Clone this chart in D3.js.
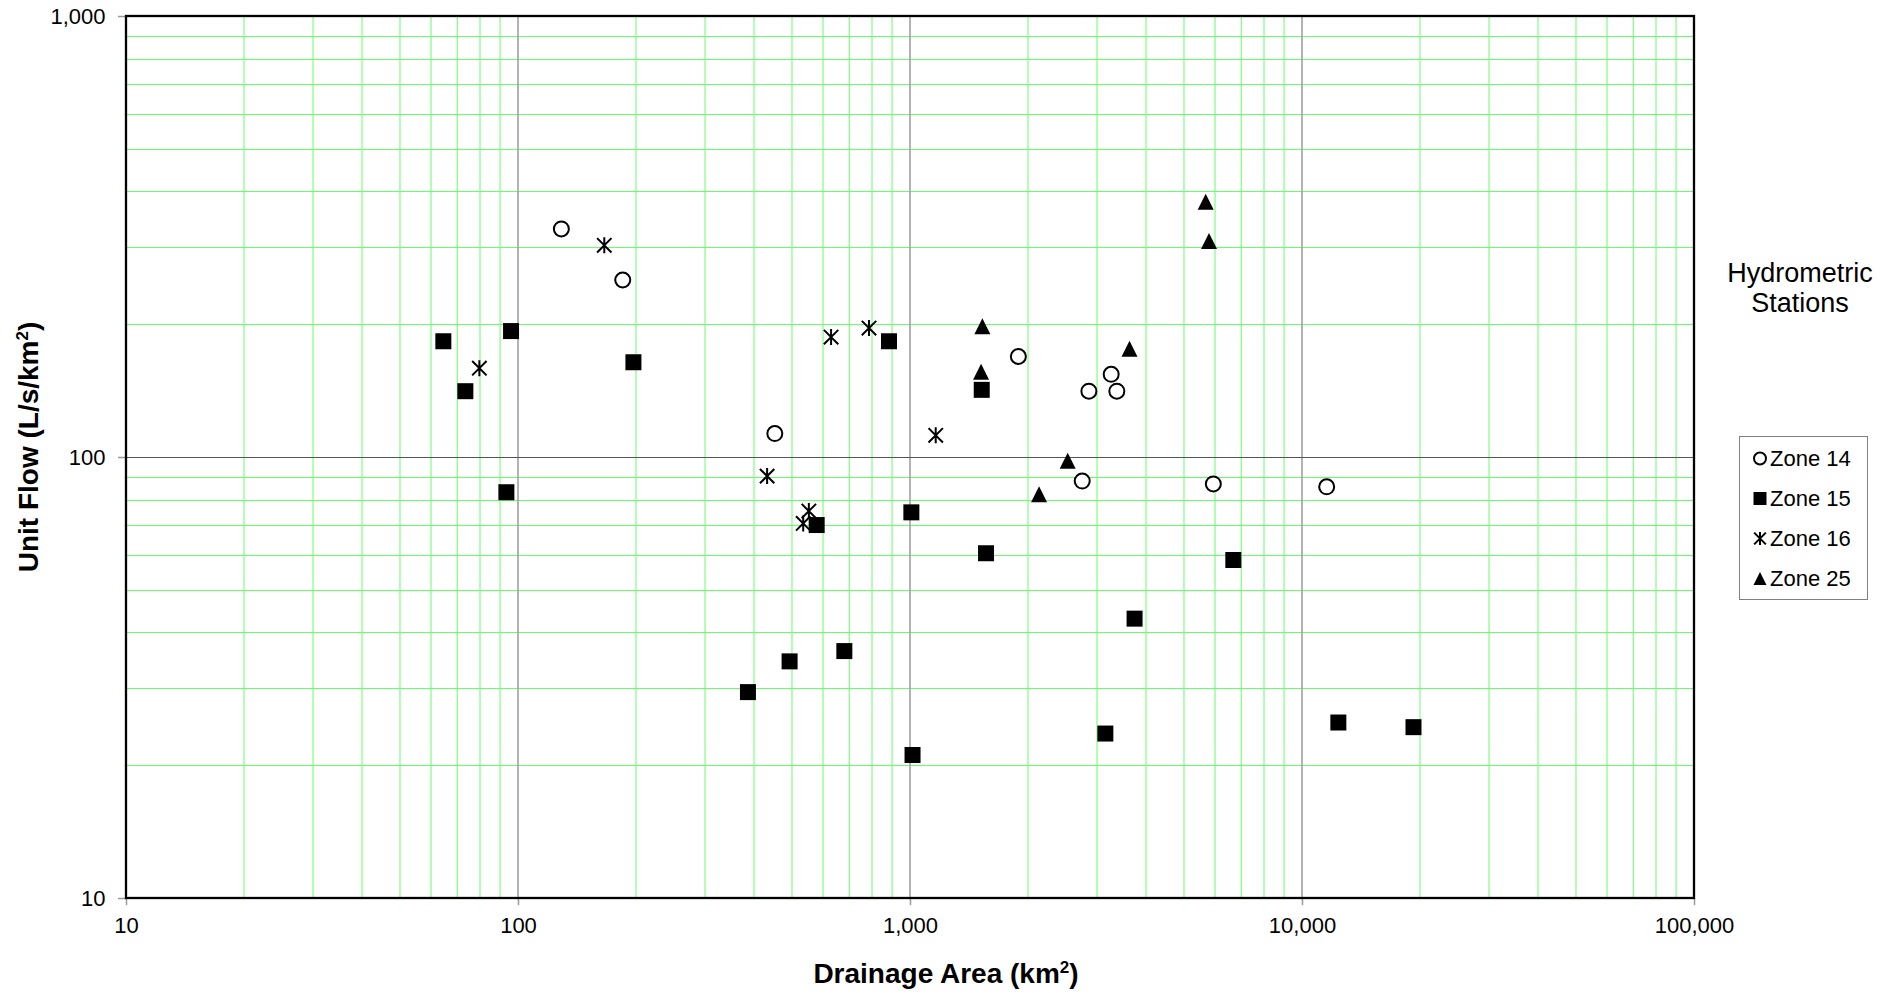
<!DOCTYPE html>
<html>
<head>
<meta charset="utf-8">
<script src="https://cdn.jsdelivr.net/npm/d3@7"></script>
<style>
  html, body { margin: 0; padding: 0; background: #fff; }
  svg { display: block; font-family: "Liberation Sans", Arial, sans-serif; }
</style>
</head>
<body>
<svg id="chart" width="1897" height="993"></svg>
<script>
// Hydrometric stations: drainage area (km²) vs unit flow (L/s/km²)
const zone14Area = [129, 185, 452, 1890, 2860, 3260, 3370, 2750, 5940, 11560];
const zone14Flow = [329, 252, 113, 169, 141, 154, 141, 88.2, 86.9, 85.6];

const zone15Area = [64.5, 73.4, 96, 93.4, 197, 386, 493, 578, 680, 884, 1008, 1015, 1524, 1563, 3150, 3740, 6680, 12380, 19250];
const zone15Flow = [183, 141, 193, 83.2, 164, 29.3, 34.4, 70.1, 36.3, 183, 74.9, 21.1, 142, 60.5, 23.6, 43.0, 58.4, 25.0, 24.4];

const zone16Area = [79.7, 166, 432, 552, 534, 629, 786, 1163];
const zone16Flow = [159, 302, 90.5, 75.4, 70.7, 187, 196, 112];

const zone25Area = [1530, 1518, 3630, 2525, 2134, 5680, 5790];
const zone25Flow = [198, 156, 176, 98.0, 82.3, 379, 309];

const zoneNames = ["Zone 14", "Zone 15", "Zone 16", "Zone 25"];
const xTickValues = [10, 100, 1000, 10000, 100000];
const yTickValues = [10, 100, 1000];

const svg = d3.select("#chart");
const pLeft = 126, pRight = 1694, pTop = 16, pBottom = 898;

const x = d3.scaleLog().domain([10, 100000]).range([pLeft, pRight]);
const y = d3.scaleLog().domain([10, 1000]).range([pBottom, pTop]);

// minor grid values: 2..9 within each decade
const minorX = [], minorY = [];
[10, 100, 1000, 10000].forEach(d => { for (let k = 2; k <= 9; k++) minorX.push(k * d); });
[10, 100].forEach(d => { for (let k = 2; k <= 9; k++) minorY.push(k * d); });

const grid = svg.append("g");
grid.selectAll(".gx").data(minorX).enter().append("line")
  .attr("x1", d => x(d)).attr("x2", d => x(d))
  .attr("y1", pTop).attr("y2", pBottom)
  .attr("stroke", "#66ff66").attr("stroke-width", 1);
grid.selectAll(".gy").data(minorY).enter().append("line")
  .attr("x1", pLeft).attr("x2", pRight)
  .attr("y1", d => Math.round(y(d)) + 0.5).attr("y2", d => Math.round(y(d)) + 0.5)
  .attr("stroke", "#66ff66").attr("stroke-width", 1);
grid.selectAll(".mx").data([100, 1000, 10000]).enter().append("line")
  .attr("x1", d => x(d)).attr("x2", d => x(d))
  .attr("y1", pTop).attr("y2", pBottom)
  .attr("stroke", "#a0a0a0").attr("stroke-width", 1.6);
grid.selectAll(".my").data([100]).enter().append("line")
  .attr("x1", pLeft).attr("x2", pRight)
  .attr("y1", d => Math.round(y(d)) + 0.5).attr("y2", d => Math.round(y(d)) + 0.5)
  .attr("stroke", "#555").attr("stroke-width", 1);

// axes
const fmt = d3.format(",");
const xAxis = svg.append("g").attr("transform", `translate(0,${pBottom})`)
  .call(d3.axisBottom(x).tickValues(xTickValues).tickFormat(fmt).tickSize(7).tickPadding(12.4));
const yAxis = svg.append("g").attr("transform", `translate(${pLeft},0)`)
  .call(d3.axisLeft(y).tickValues(yTickValues).tickFormat(fmt).tickSize(8).tickPadding(12.5));
[xAxis, yAxis].forEach(a => {
  a.select(".domain").remove();
  a.selectAll(".tick line").attr("stroke", "#999").attr("stroke-width", 1.5);
  a.selectAll(".tick text").attr("fill", "#000").style("font-size", "22px")
    .style("font-family", "'Liberation Sans', Arial, sans-serif");
});

// plot frame
svg.append("rect").attr("x", pLeft).attr("y", pTop)
  .attr("width", pRight - pLeft).attr("height", pBottom - pTop)
  .attr("fill", "none").attr("stroke", "#000").attr("stroke-width", 2.3);

// marker shapes
function markerPath(type, s) {
  const h = s / 2;
  if (type === "square") return `M${-h},${-h}H${h}V${h}H${-h}Z`;
  if (type === "triangle") return `M0,${-h}L${h},${h}L${-h},${h}Z`;
  if (type === "star") {
    const a = h * 0.9;
    return `M${-a},${-a}L${a},${a}M${-a},${a}L${a},${-a}M0,${-h}L0,${h}`;
  }
  return null;
}

function drawMarker(g, type, size) {
  if (type === "circle") {
    g.append("circle").attr("r", size / 2 - 0.5).attr("fill", "#fff")
      .attr("stroke", "#000").attr("stroke-width", 2);
  } else if (type === "star") {
    g.append("path").attr("d", markerPath(type, size)).attr("fill", "none")
      .attr("stroke", "#000").attr("stroke-width", 2);
  } else {
    g.append("path").attr("d", markerPath(type, size)).attr("fill", "#000");
  }
}

const series = [
  { name: zoneNames[0], area: zone14Area, flow: zone14Flow, type: "circle" },
  { name: zoneNames[1], area: zone15Area, flow: zone15Flow, type: "square" },
  { name: zoneNames[2], area: zone16Area, flow: zone16Flow, type: "star" },
  { name: zoneNames[3], area: zone25Area, flow: zone25Flow, type: "triangle" }
];

const drawOrder = [2, 0, 3, 1];
const pts = svg.append("g");
drawOrder.forEach(i => {
  const s = series[i];
  s.area.forEach((a, j) => {
    const g = pts.append("g").attr("transform", `translate(${x(a)},${y(s.flow[j])})`);
    drawMarker(g, s.type, 16);
  });
});

// axis titles
function titleWithSup(sel, base) {
  sel.append("tspan").text(base);
  sel.append("tspan").attr("dy", -10).style("font-size", "17px").text("2");
  sel.append("tspan").attr("dy", 10).text(")");
}

titleWithSup(
  svg.append("text").attr("x", 946).attr("y", 983)
    .attr("text-anchor", "middle").style("font-size", "28px").style("font-weight", "bold"),
  "Drainage Area (km");

titleWithSup(
  svg.append("text").attr("transform", "translate(38,447) rotate(-90)")
    .attr("text-anchor", "middle").style("font-size", "28px").style("font-weight", "bold"),
  "Unit Flow (L/s/km");

// legend title
const lt = svg.append("text").attr("text-anchor", "middle").style("font-size", "27px");
lt.append("tspan").attr("x", 1800).attr("y", 282).text("Hydrometric");
lt.append("tspan").attr("x", 1800).attr("y", 312).text("Stations");

// legend
const legend = svg.append("g");
legend.append("rect").attr("x", 1739.5).attr("y", 436.5).attr("width", 128).attr("height", 163)
  .attr("fill", "#fff").attr("stroke", "#808080").attr("stroke-width", 1);
series.forEach((s, i) => {
  const cy = 458.5 + i * 40;
  const g = legend.append("g").attr("transform", `translate(1760,${cy})`);
  drawMarker(g, s.type, 13);
  legend.append("text").attr("x", 1770).attr("y", cy).attr("dy", "0.36em")
    .style("font-size", "22px").text(s.name);
});
</script>
</body>
</html>
